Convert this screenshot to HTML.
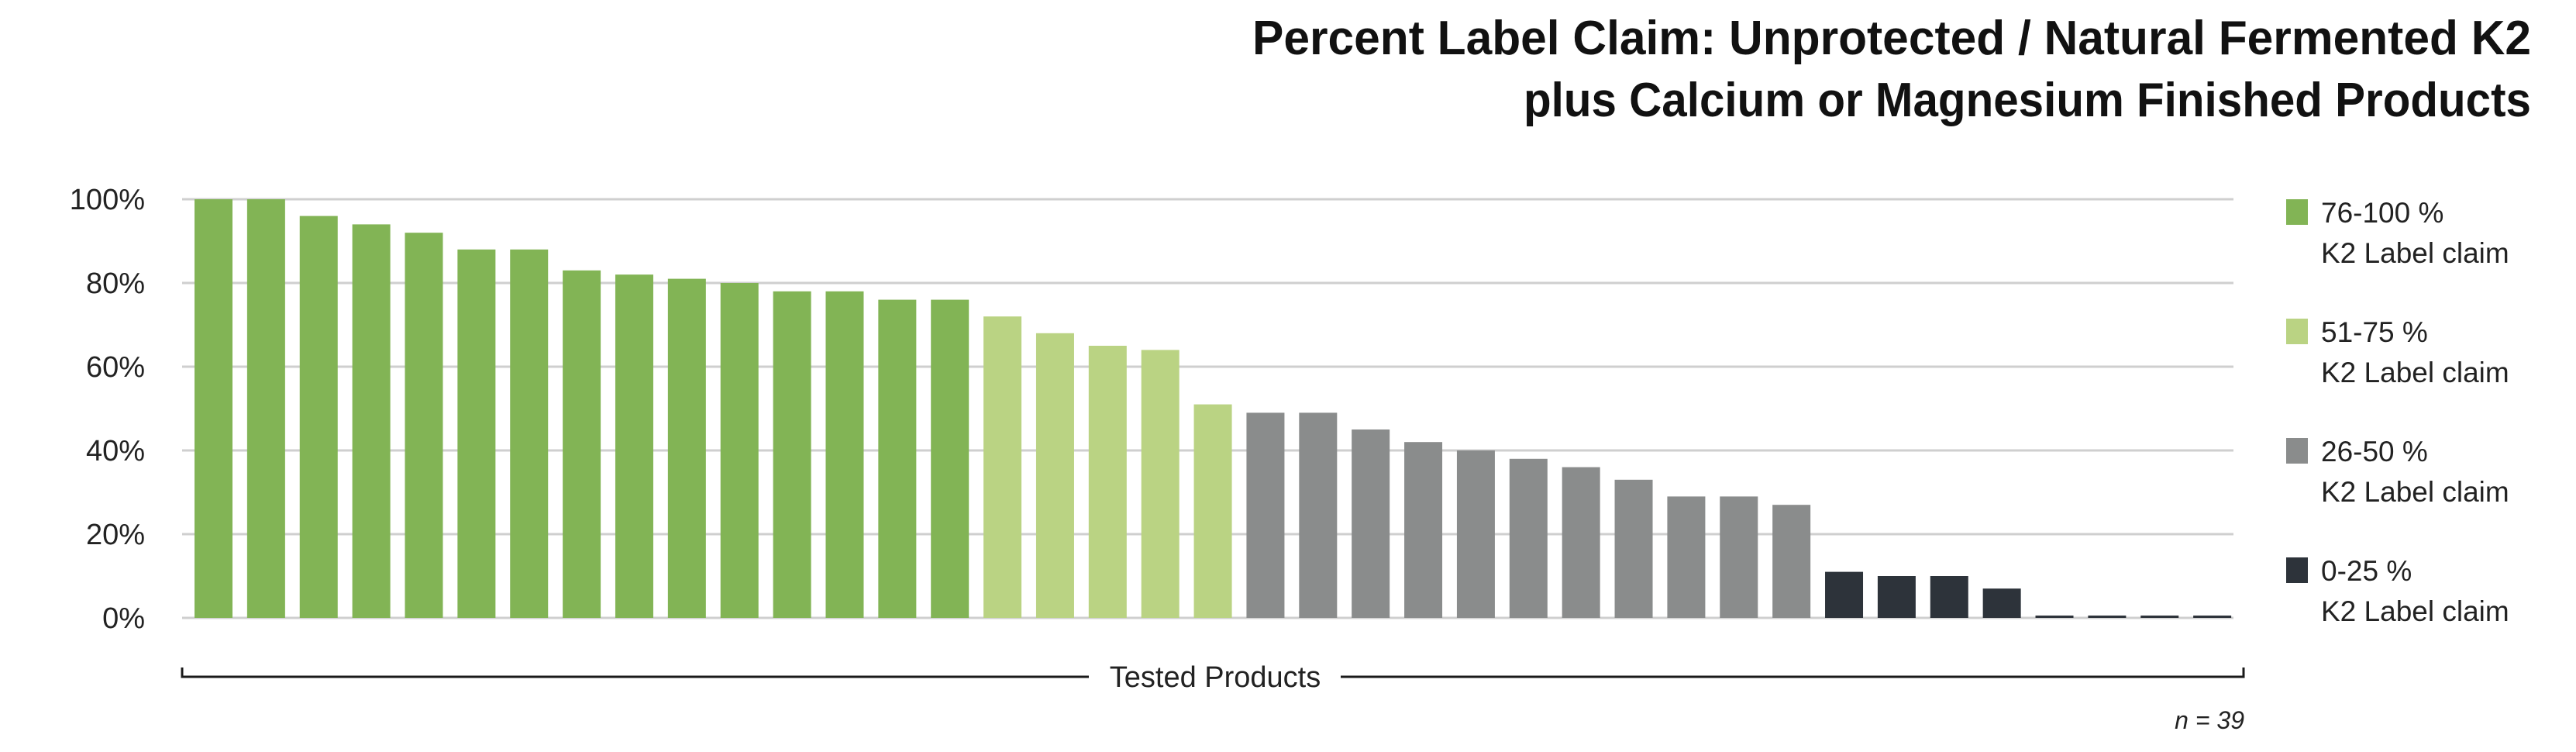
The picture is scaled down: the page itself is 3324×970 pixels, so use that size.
<!DOCTYPE html>
<html><head><meta charset="utf-8"><style>
html,body{margin:0;padding:0;background:#fff;}
svg{display:block;font-family:"Liberation Sans Narrow","Liberation Sans",sans-serif;}
</style></head><body>
<svg id="chart" width="3324" height="970" viewBox="0 0 3324 970" xmlns="http://www.w3.org/2000/svg">
<text x="3266" y="70" text-anchor="end" font-size="62" font-weight="bold" fill="#111" textLength="1650" lengthAdjust="spacingAndGlyphs">Percent Label Claim: Unprotected / Natural Fermented K2</text>
<text x="3266" y="150" text-anchor="end" font-size="62" font-weight="bold" fill="#111" textLength="1300" lengthAdjust="spacingAndGlyphs">plus Calcium or Magnesium Finished Products</text>
<g id="grid"></g>
<g id="bars"></g>
<g id="yticks"></g>
<path d="M235 861 V873 H2895 V861" fill="none" stroke="#1a1a1a" stroke-width="3"/>
<rect x="1405" y="850" width="325" height="46" fill="#fff"/>
<text x="1568" y="886" text-anchor="middle" font-size="38" fill="#222">Tested Products</text>
<text x="2896" y="940" text-anchor="end" font-size="32" font-style="italic" fill="#222">n = 39</text>
<g id="legend"></g>
</svg>
<script>
const values=[100,100,96,94,92,88,88,83,82,81,80,78,78,76,76,72,68,65,64,51,49,49,45,42,40,38,36,33,29,29,27,11,10,10,7,0.5,0.5,0.5,0.5];
const tickValues=[0,20,40,60,80,100];
const tickLabels=["0%","20%","40%","60%","80%","100%"];
const legendLabels=["76-100 %","51-75 %","26-50 %","0-25 %"];
const colors=["#82b455","#bad383","#8a8c8c","#2d333a"];
const NS="http://www.w3.org/2000/svg";
const x0=235,x1=2882,yTop=257,yBot=797;
const pitch=(x1-x0)/values.length,barW=49;
function y(v){return yBot-(v/100)*(yBot-yTop);}
function xb(i){return x0+16+i*pitch;}
function colorFor(v){return v>75?colors[0]:v>50?colors[1]:v>25?colors[2]:colors[3];}
const grid=document.getElementById('grid'),yt=document.getElementById('yticks');
tickValues.forEach((t,i)=>{
 const l=document.createElementNS(NS,'line');
 
 
 l.setAttribute('x1',x0);l.setAttribute('x2',x1);l.setAttribute('y1',y(t));l.setAttribute('y2',y(t));
 l.setAttribute('stroke','#cfcfcf');l.setAttribute('stroke-width','3');grid.appendChild(l);
 const tx=document.createElementNS(NS,'text');
 
 
 tx.setAttribute('x',187);tx.setAttribute('y',y(t)+13);tx.setAttribute('text-anchor','end');
 tx.setAttribute('font-size','38');tx.setAttribute('fill','#222');tx.textContent=tickLabels[i];yt.appendChild(tx);
});
const bars=document.getElementById('bars');
values.forEach((v,i)=>{
 const r=document.createElementNS(NS,'rect');
 
 
 const h=Math.max(yBot-y(v),3);
 r.setAttribute('x',xb(i));r.setAttribute('width',barW);r.setAttribute('y',yBot-h);r.setAttribute('height',h);
 r.setAttribute('fill',colorFor(v));bars.appendChild(r);
});
const lg=document.getElementById('legend');
legendLabels.forEach((s,i)=>{
 const cy=257+i*154;
 const r=document.createElementNS(NS,'rect');
 
 
 r.setAttribute('x',2950);r.setAttribute('y',cy);r.setAttribute('width',28);r.setAttribute('height',33);r.setAttribute('fill',colors[i]);lg.appendChild(r);
 const t1=document.createElementNS(NS,'text');
 
 
 t1.setAttribute('x',2995);t1.setAttribute('y',cy+30);t1.setAttribute('font-size','37');t1.setAttribute('fill','#222');t1.textContent=s;lg.appendChild(t1);
 const t2=document.createElementNS(NS,'text');
 
 
 t2.setAttribute('x',2995);t2.setAttribute('y',cy+82);t2.setAttribute('font-size','37');t2.setAttribute('fill','#222');t2.textContent='K2 Label claim';lg.appendChild(t2);
});
</script>
</body></html>
